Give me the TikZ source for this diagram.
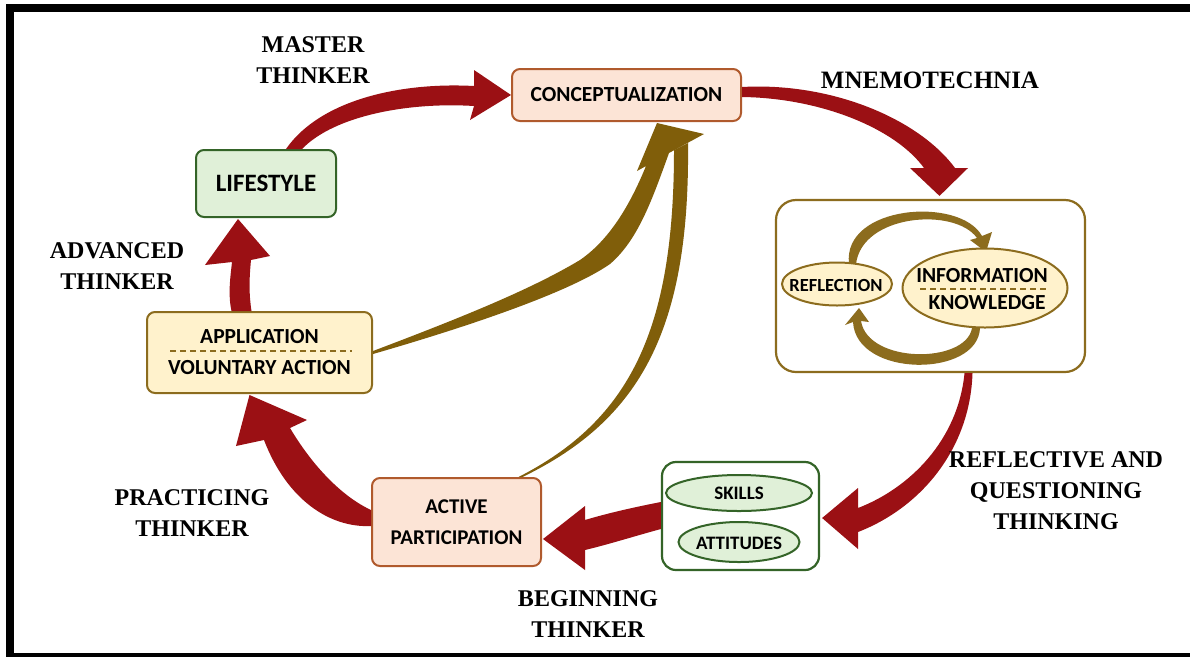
\documentclass[tikz,border=0pt]{standalone}
\usepackage{fontspec}
\setmainfont{Liberation Serif}
\newfontfamily\boxfont{Carlito}
\usetikzlibrary{shapes.geometric,calc}
\definecolor{arrred}{RGB}{155,16,20}
\definecolor{gold}{RGB}{128,94,10}
\definecolor{goldline}{RGB}{140,108,30}
\definecolor{peach}{RGB}{252,228,214}
\definecolor{peachline}{RGB}{176,90,45}
\definecolor{lgreen}{RGB}{224,240,216}
\definecolor{dgreen}{RGB}{52,100,40}
\definecolor{lyellow}{RGB}{255,242,204}
\tikzset{
  lab/.style={font=\fontsize{24}{31}\selectfont\bfseries, align=center, inner sep=0pt},
  boxtxt/.style={font=\boxfont\bfseries\fontsize{21.5}{27}\selectfont, align=center},
  peachbox/.style={draw=peachline, line width=2pt, fill=peach, rounded corners=8pt, inner sep=0pt, boxtxt},
  greenbox/.style={draw=dgreen, line width=2pt, fill=lgreen, rounded corners=8pt, inner sep=0pt, boxtxt},
  yellowbox/.style={draw=goldline, line width=2pt, fill=lyellow, rounded corners=8pt, inner sep=0pt, boxtxt},
  whitebox/.style={line width=2.2pt, fill=white, rounded corners=14pt, inner sep=0pt},
  gell/.style={ellipse, draw=dgreen, line width=2pt, fill=lgreen, inner sep=0pt},
  gtxt/.style={inner sep=0pt, font=\boxfont\bfseries\fontsize{19}{22}\selectfont},
  yell/.style={ellipse, draw=goldline, line width=2pt, fill=lyellow, inner sep=0pt},
  redarrow/.style={fill=arrred, draw=none},
  goldarrow/.style={fill=gold, draw=none}
}
\begin{document}
\begin{tikzpicture}[x=1pt,y=-1pt]
\useasboundingbox (0,0) rectangle (1190,657);
\fill[white] (0,0) rectangle (1190,657);
% frame
\fill[black] (6,4) rectangle (1190,12);
\fill[black] (6,4) rectangle (14,657);
\fill[black] (6,653) rectangle (1190,657);

% boxes
\node[peachbox, minimum width=229pt, minimum height=52pt] (concept) at (626.5,95) {CONCEPTUALIZATION};
\node[greenbox, minimum width=140pt, minimum height=67pt, font=\boxfont\bfseries\fontsize{25}{30}\selectfont] (life) at (266,183.5) {LIFESTYLE};
\node[yellowbox, minimum width=225pt, minimum height=81pt] (app) at (259.5,352.5) {};
\node[boxtxt, inner sep=0pt] (apptxt) at (259.5,337) {APPLICATION};
\node[boxtxt, inner sep=0pt] (voltxt) at (259.5,368) {VOLUNTARY ACTION};
\draw[goldline, line width=1.3pt, dash pattern=on 6pt off 4pt] (170,351) -- (352,351);
\node[peachbox, minimum width=169pt, minimum height=88pt, font=\boxfont\bfseries\fontsize{21}{31}\selectfont] (active) at (456.5,522) {ACTIVE\\PARTICIPATION};
\node[whitebox, draw=dgreen, minimum width=157pt, minimum height=108pt] (skillbox) at (740.5,516) {};
\node[gell, minimum width=146pt, minimum height=36pt] (skills) at (739,493) {};
\node[gtxt] (skillstxt) at (739,493) {SKILLS};
\node[gell, minimum width=121pt, minimum height=40pt] (attitudes) at (739,542) {};
\node[gtxt] (atttxt) at (739,543) {ATTITUDES};
\node[whitebox, draw=goldline, rounded corners=20pt, minimum width=309pt, minimum height=172pt] (bigbox) at (930.5,286) {};

% inner cycle arrows
\fill[goldline] (849,264) .. controls (842,205) and (960,196) .. (982,236)
  -- (992,232) -- (986,252) -- (970,240) -- (977,238)
  .. controls (955,207) and (862,214) .. (856,264) -- cycle;
\fill[goldline] (980,328) .. controls (978,378) and (856,378) .. (853,322)
  -- (845,325) -- (859,308) -- (869,322) -- (861,321)
  .. controls (868,364) and (966,364) .. (972,328) -- cycle;

\node[yell, minimum width=110pt, minimum height=43pt] (refl) at (837,284) {};
\node[inner sep=0pt, font=\boxfont\bfseries\fontsize{18.5}{22}\selectfont] (refltxt) at (836,285) {REFLECTION};
\node[yell, minimum width=165pt, minimum height=79pt] (info) at (985,288) {};
\node[font=\boxfont\bfseries\fontsize{21.5}{24}\selectfont, inner sep=0pt] (infotxt) at (982,276) {INFORMATION};
\node[font=\boxfont\bfseries\fontsize{21.5}{24}\selectfont, inner sep=0pt] (knowtxt) at (987,303) {KNOWLEDGE};
\draw[goldline, line width=1.3pt, dash pattern=on 6pt off 4pt] (920,289) -- (1047,289);

% red arrows
% lifestyle -> conceptualization
\fill[redarrow] ($(life.north)+(20,0)$) .. controls (320,100) and (400,82) .. (474,86)
  -- (474,70) -- (concept.west) -- (470,120) -- (474,106)
  .. controls (410,102) and (335,115) .. ($(life.north)+(36,0)$) -- cycle;
% conceptualization -> big box
\fill[redarrow] ($(concept.east)+(0,-8)$) .. controls (830,82) and (918,118) .. (955,168)
  -- (968,168) -- ($(bigbox.north)+(9,-3)$) -- (910,168) -- (924,168)
  .. controls (895,128) and (820,98) .. ($(concept.east)+(0,2)$) -- cycle;
% big box -> skills
\fill[redarrow] ($(bigbox.south)+(42,0)$) .. controls (970,450) and (920,508) .. (858,532)
  -- (858,549) -- ($(skillbox.east)+(2,2)$) -- (858,488) -- (858,508)
  .. controls (910,488) and (958,440) .. ($(bigbox.south)+(34,0)$) -- cycle;
% skills box -> active participation
\fill[redarrow] ($(skillbox.west)+(0,-14)$) .. controls (630,508) and (605,514) .. (585,520)
  -- (585,506) -- ($(active.east)+(1,17)$) -- (585,570) -- (585,550)
  .. controls (610,544) and (635,536) .. ($(skillbox.west)+(0,13)$) -- cycle;
% active participation -> application
\fill[redarrow] ($(active.west)+(0,4)$) .. controls (330,528) and (287,500) .. (264,440)
  -- (236,446) -- ($(app.south)+(-10,1)$) -- (307,420) -- (290,428)
  .. controls (315,470) and (345,498) .. ($(active.west)+(0,-12)$) -- cycle;
% application -> lifestyle
\fill[redarrow] ($(app.north)+(-28,0)$) .. controls (228,295) and (230,280) .. (232,262)
  -- (205,265) -- ($(life.south)+(-28,1)$) -- (270,256) -- (251,260)
  .. controls (249,280) and (249,295) .. ($(app.north)+(-8,0)$) -- cycle;

% gold arrows into conceptualization
\coordinate (gtip) at (657,123);
\fill[goldarrow] ($(app.east)+(0,-1.5)$) .. controls (460,318) and (530,290) .. (580,260)
  .. controls (612,238) and (632,200) .. (646,166)
  -- (637,171) -- (gtip) -- (704,134) -- (669,153)
  .. controls (652,200) and (638,240) .. (610,264)
  .. controls (570,292) and (470,326) .. ($(app.east)+(0,1.5)$) -- cycle;
\fill[goldarrow] ($(active.north)+(62,0)$) .. controls (630,420) and (674,330) .. (674,150)
  -- (688,143) .. controls (690,330) and (640,420) .. ($(active.north)+(66,0)$) -- cycle;

% labels
\node[lab] (master) at (313,60) {MASTER\\THINKER};
\node[lab, font=\fontsize{25}{31}\selectfont\bfseries] (mnemo) at (930,80) {MNEMOTECHNIA};
\node[lab] (advanced) at (117,266) {ADVANCED\\THINKER};
\node[lab] (practicing) at (192,513) {PRACTICING\\THINKER};
\node[lab] (reflective) at (1056,491) {REFLECTIVE AND\\QUESTIONING\\THINKING};
\node[lab] (beginning) at (588,614) {BEGINNING\\THINKER};
\end{tikzpicture}
\end{document}
